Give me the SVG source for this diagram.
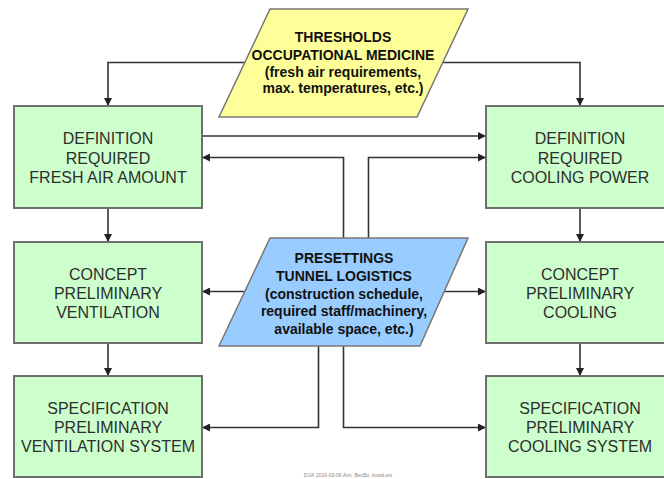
<svg xmlns="http://www.w3.org/2000/svg" width="664" height="479" viewBox="0 0 664 479">
<style>
.box{fill:#ccffcc;stroke:#6e6e6e;stroke-width:2}
.bt{font-family:"Liberation Sans",Arial,sans-serif;font-size:16px;fill:#2e2e2e;text-anchor:middle}
.pt{font-family:"Liberation Sans",Arial,sans-serif;font-size:14px;font-weight:bold;fill:#111;text-anchor:middle}
.con{fill:none;stroke:#333;stroke-width:1.6}
.foot{font-family:"Liberation Sans",Arial,sans-serif;font-size:5px;fill:#888;text-anchor:middle}
</style>
<defs>
<marker id="ah" markerUnits="userSpaceOnUse" markerWidth="8" markerHeight="8" refX="8" refY="4" orient="auto">
<path d="M0,0 L8,4 L0,8 z" fill="#222"/>
</marker>
</defs>
<rect width="664" height="479" fill="#ffffff"/>
<g id="connectors">
<path class="con" d="M340,62.5 H108 V106" marker-end="url(#ah)"/>
<path class="con" d="M340,62.5 H580 V106" marker-end="url(#ah)"/>
<path class="con" d="M202,136 H486" marker-end="url(#ah)"/>
<path class="con" d="M343.5,238 V157.5 H202" marker-end="url(#ah)"/>
<path class="con" d="M368.5,238 V157.5 H486" marker-end="url(#ah)"/>
<path class="con" d="M108,208 V242" marker-end="url(#ah)"/>
<path class="con" d="M580,208 V242" marker-end="url(#ah)"/>
<path class="con" d="M108,343 V376" marker-end="url(#ah)"/>
<path class="con" d="M580,343 V376" marker-end="url(#ah)"/>
<path class="con" d="M246,291.5 H202" marker-end="url(#ah)"/>
<path class="con" d="M443,291.5 H486" marker-end="url(#ah)"/>
<path class="con" d="M318.5,346 V427.5 H202" marker-end="url(#ah)"/>
<path class="con" d="M343.5,346 V427.5 H486" marker-end="url(#ah)"/>
</g>
<g id="thresholds">
<polygon points="270,9 468,9 417,117 219,117" fill="#ffff99" stroke="#777" stroke-width="1.5"/>
<text class="pt" x="343" y="42.3">THRESHOLDS</text>
<text class="pt" x="343" y="60">OCCUPATIONAL MEDICINE</text>
<text class="pt" x="343" y="76.7">(fresh air requirements,</text>
<text class="pt" x="343" y="93.3">max. temperatures, etc.)</text>
</g>
<g id="presettings">
<polygon points="270,238 468,238 420,346 219,346" fill="#99ccff" stroke="#777" stroke-width="1.5"/>
<text class="pt" x="344" y="263">PRESETTINGS</text>
<text class="pt" x="344" y="281">TUNNEL LOGISTICS</text>
<text class="pt" x="344" y="298.5">(construction schedule,</text>
<text class="pt" x="344" y="316">required staff/machinery,</text>
<text class="pt" x="344" y="334">available space, etc.)</text>
</g>
<g id="def-fresh-air">
<rect class="box" x="14" y="106" width="188" height="102"/>
<text class="bt" x="108" y="144">DEFINITION</text>
<text class="bt" x="108" y="163.5">REQUIRED</text>
<text class="bt" x="108" y="183">FRESH AIR AMOUNT</text>
</g>
<g id="def-cooling">
<rect class="box" x="486" y="106" width="188" height="102"/>
<text class="bt" x="580" y="144">DEFINITION</text>
<text class="bt" x="580" y="163.5">REQUIRED</text>
<text class="bt" x="580" y="183">COOLING POWER</text>
</g>
<g id="concept-ventilation">
<rect class="box" x="14" y="242" width="188" height="101"/>
<text class="bt" x="108" y="279.5">CONCEPT</text>
<text class="bt" x="108" y="299">PRELIMINARY</text>
<text class="bt" x="108" y="318">VENTILATION</text>
</g>
<g id="concept-cooling">
<rect class="box" x="486" y="242" width="188" height="101"/>
<text class="bt" x="580" y="279.5">CONCEPT</text>
<text class="bt" x="580" y="299">PRELIMINARY</text>
<text class="bt" x="580" y="318">COOLING</text>
</g>
<g id="spec-ventilation">
<rect class="box" x="14" y="376" width="188" height="101"/>
<text class="bt" x="108" y="413.7">SPECIFICATION</text>
<text class="bt" x="108" y="432.7">PRELIMINARY</text>
<text class="bt" x="108" y="452.4">VENTILATION SYSTEM</text>
</g>
<g id="spec-cooling">
<rect class="box" x="486" y="376" width="188" height="101"/>
<text class="bt" x="580" y="413.7">SPECIFICATION</text>
<text class="bt" x="580" y="432.7">PRELIMINARY</text>
<text class="bt" x="580" y="452.4">COOLING SYSTEM</text>
</g>
<text class="foot" x="348" y="477">DGK 2016-03-06 Ann. BeuBo .kustd.ext</text>
</svg>
